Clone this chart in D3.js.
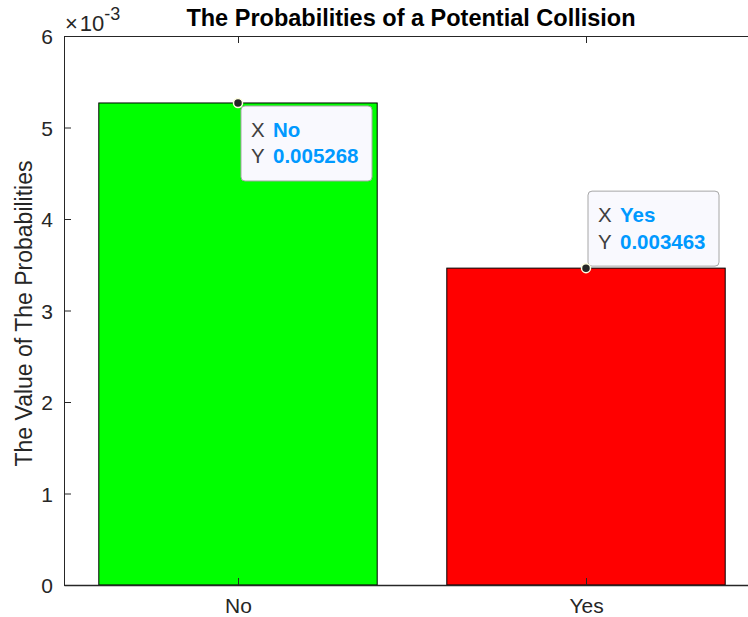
<!DOCTYPE html>
<html>
<head>
<meta charset="utf-8">
<script src="https://cdn.jsdelivr.net/npm/d3@7"></script>
<style>
  html, body { margin: 0; padding: 0; background: #ffffff; }
  svg { display: block; }
  text { font-family: "Liberation Sans", Arial, Helvetica, sans-serif; }
</style>
</head>
<body>
<svg id="chart" width="748" height="617"></svg>
<script>
// ---- data ----
const categories = ["No", "Yes"];
const values = [0.005268, 0.003463];
const barColors = ["#00ff00", "#ff0000"];
const yTicks = [0, 0.001, 0.002, 0.003, 0.004, 0.005, 0.006];
const yTickLabels = ["0", "1", "2", "3", "4", "5", "6"];
const tipLabels = ["0.005268", "0.003463"];
const titleText = "The Probabilities of a Potential Collision";
const yLabelText = "The Value of The Probabilities";

(function () {
  // ---- layout ----
  const mLeft = 64, mRight = 760, mTop = 36, mBottom = 585;
  const svg = d3.select("#chart");
  const axisColor = "#262626";

  const x = d3.scaleLinear().domain([0.5, 2.5]).range([mLeft, mRight]);
  const y = d3.scaleLinear().domain([0, 0.006]).range([mBottom, mTop]);
  const catPos = categories.map((c, i) => i + 1);
  const barW = 0.8;

  // bars
  svg.append("g").selectAll("rect").data(values).join("rect")
    .attr("x", (d, i) => x(catPos[i] - barW / 2))
    .attr("width", (d, i) => x(catPos[i] + barW / 2) - x(catPos[i] - barW / 2))
    .attr("y", d => y(d))
    .attr("height", d => y(0) - y(d))
    .attr("fill", (d, i) => barColors[i])
    .attr("stroke", "#000")
    .attr("stroke-width", 1);

  // axes
  const yAxis = d3.axisLeft(y).tickValues(yTicks).tickFormat((d, i) => yTickLabels[i])
    .tickSizeInner(-7).tickSizeOuter(0).tickPadding(11);
  const gy = svg.append("g").attr("transform", `translate(${mLeft},0)`).call(yAxis);
  gy.select(".domain").attr("stroke", axisColor);
  gy.selectAll(".tick line").attr("stroke", axisColor);
  gy.selectAll(".tick text").attr("fill", axisColor).style("font-size", "21px")
    .attr("dy", "0.36em");

  const xAxis = d3.axisBottom(x).tickValues(catPos).tickFormat((d, i) => categories[i])
    .tickSizeInner(-7).tickSizeOuter(0).tickPadding(13);
  const gx = svg.append("g").attr("transform", `translate(0,${mBottom})`).call(xAxis);
  gx.select(".domain").attr("stroke", axisColor).attr("stroke-width", 1.6);
  gx.selectAll(".tick line").attr("stroke", axisColor);
  gx.selectAll(".tick text").attr("fill", axisColor).style("font-size", "21px");

  // top box line with ticks
  const xTop = d3.axisTop(x).tickValues(catPos).tickFormat("")
    .tickSizeInner(-7).tickSizeOuter(0);
  const gt = svg.append("g").attr("transform", `translate(0,${mTop})`).call(xTop);
  gt.select(".domain").attr("stroke", axisColor);
  gt.selectAll(".tick line").attr("stroke", axisColor);

  // exponent label
  const ex = svg.append("text").attr("x", 65).attr("y", 31).attr("fill", axisColor)
    .style("font-size", "22px");
  ex.append("tspan").text("\u00d7");
  ex.append("tspan").attr("dx", 2).text("10");
  ex.append("tspan").attr("dy", -11).style("font-size", "18px").text("-3");

  // title
  svg.append("text").attr("x", (mLeft + mRight) / 2 - 1).attr("y", 26)
    .attr("text-anchor", "middle").attr("fill", "#000")
    .style("font-size", "23.5px").style("font-weight", "bold").text(titleText);

  // y label
  svg.append("text")
    .attr("transform", `translate(32,${(mTop + mBottom) / 2 + 3}) rotate(-90)`)
    .attr("text-anchor", "middle").attr("fill", axisColor)
    .style("font-size", "23px").text(yLabelText);

  // data tips
  const tipW = 131, tipH = 75;
  values.forEach((v, i) => {
    const px = x(catPos[i]), py = y(v);
    const bx = i === 0 ? px + 3 : px + 2;
    const by = i === 0 ? py + 3 : py - 2 - tipH;
    const g = svg.append("g");
    g.append("rect").attr("x", bx).attr("y", by).attr("width", tipW).attr("height", tipH)
      .attr("rx", 4).attr("fill", "#f9f9fe").attr("stroke", "#a6a6a6").attr("stroke-width", 1);
    const rows = [["X", categories[i]], ["Y", tipLabels[i]]];
    rows.forEach((r, j) => {
      const base = by + 31 + j * 26.5;
      g.append("text").attr("x", bx + 10).attr("y", base).attr("fill", "#404040")
        .style("font-size", "20.5px").text(r[0]);
      g.append("text").attr("x", bx + 32).attr("y", base).attr("fill", "#0099ff")
        .style("font-size", "20.5px").style("font-weight", "bold").text(r[1]);
    });
    svg.append("circle").attr("cx", px).attr("cy", py).attr("r", 4.5)
      .attr("fill", "#262626").attr("stroke", "#ffffe0").attr("stroke-width", 1.5);
  });
})();
</script>
</body>
</html>
